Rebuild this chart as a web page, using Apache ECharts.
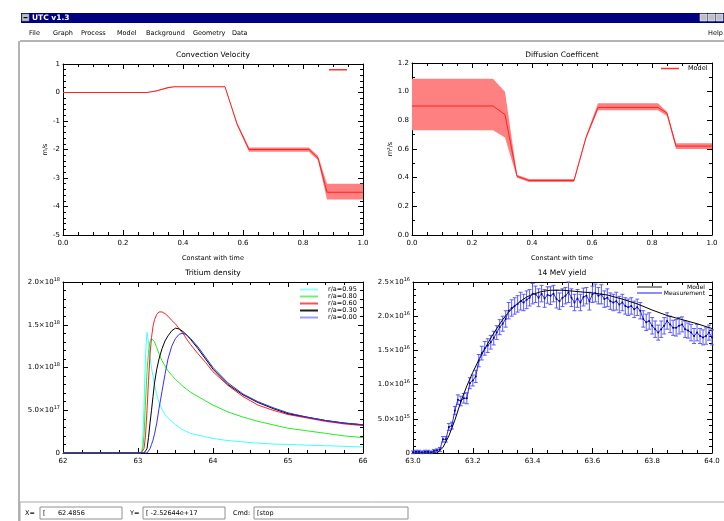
<!DOCTYPE html>
<html><head><meta charset="utf-8">
<script src="https://cdn.jsdelivr.net/npm/echarts@6/dist/echarts.min.js"></script>
<style>html,body{margin:0;padding:0;background:#fff}#c{width:724px;height:521px}</style>
</head><body><div id="c"></div>
<script>
// ---------------- DATA ----------------
// Convection velocity (m/s)
const convX   = [0, 0.28, 0.31, 0.35, 0.37, 0.54, 0.58, 0.62, 0.82, 0.85, 0.88, 1.0];
const convMid = [0, 0, 0.05, 0.17, 0.20, 0.20, -1.10, -2.00, -2.00, -2.30, -3.50, -3.50];
const convUp  = [0.01, 0.01, 0.07, 0.19, 0.21, 0.21, -1.05, -1.93, -1.93, -2.22, -3.20, -3.20];
const convLo  = [-0.01, -0.01, 0.04, 0.15, 0.19, 0.19, -1.15, -2.08, -2.08, -2.38, -3.75, -3.75];
const convXLabels = ['0.0','0.2','0.4','0.6','0.8','1.0'];
const convYLabels = ['-5','-4','-3','-2','-1','0','1'];

// Diffusion coefficient (m^2/s)
const diffX   = [0, 0.27, 0.31, 0.35, 0.39, 0.54, 0.58, 0.62, 0.82, 0.85, 0.88, 1.0];
const diffMid = [0.90, 0.90, 0.84, 0.41, 0.38, 0.38, 0.68, 0.89, 0.89, 0.85, 0.62, 0.62];
const diffUp  = [1.09, 1.09, 1.00, 0.42, 0.39, 0.39, 0.69, 0.92, 0.92, 0.86, 0.64, 0.64];
const diffLo  = [0.73, 0.73, 0.68, 0.40, 0.37, 0.37, 0.67, 0.87, 0.87, 0.83, 0.60, 0.60];
const diffYLabels = ['0.0','0.2','0.4','0.6','0.8','1.0','1.2'];

// Tritium density (units of 1e18)
const triX = [62, 63.0, 63.04, 63.06, 63.08, 63.10, 63.12, 63.14, 63.16, 63.18, 63.20, 63.22, 63.25, 63.28, 63.32, 63.36, 63.40, 63.45, 63.50, 63.55, 63.60, 63.65, 63.70, 63.80, 63.90, 64.00, 64.20, 64.40, 64.60, 64.80, 65.00, 65.25, 65.50, 65.75, 66.00];
const tri095 = [0, 0, 0, 0.08, 0.55, 1.15, 1.41, 1.30, 1.12, 0.99, 0.90, 0.80, 0.68, 0.59, 0.51, 0.45, 0.41, 0.37, 0.33, 0.30, 0.27, 0.25, 0.23, 0.21, 0.19, 0.17, 0.145, 0.13, 0.115, 0.105, 0.10, 0.092, 0.085, 0.078, 0.07];
const tri080 = [0, 0, 0, 0.03, 0.20, 0.60, 0.95, 1.18, 1.30, 1.34, 1.33, 1.30, 1.23, 1.16, 1.08, 1.02, 0.96, 0.91, 0.86, 0.82, 0.78, 0.745, 0.71, 0.66, 0.61, 0.56, 0.48, 0.42, 0.37, 0.33, 0.29, 0.26, 0.23, 0.20, 0.18];
const tri060 = [0, 0, 0, 0, 0.05, 0.20, 0.50, 0.85, 1.15, 1.35, 1.48, 1.56, 1.62, 1.65, 1.65, 1.63, 1.60, 1.55, 1.51, 1.45, 1.40, 1.33, 1.27, 1.16, 1.06, 0.95, 0.79, 0.66, 0.56, 0.50, 0.45, 0.41, 0.37, 0.34, 0.32];
const tri030 = [0, 0, 0, 0, 0, 0.01, 0.05, 0.18, 0.35, 0.50, 0.66, 0.82, 0.98, 1.10, 1.22, 1.31, 1.37, 1.43, 1.46, 1.45, 1.42, 1.38, 1.33, 1.22, 1.10, 0.98, 0.80, 0.68, 0.59, 0.52, 0.46, 0.42, 0.38, 0.35, 0.33];
const tri000 = [0, 0, 0, 0, 0, 0, 0, 0.02, 0.05, 0.10, 0.15, 0.22, 0.35, 0.52, 0.72, 0.92, 1.10, 1.25, 1.34, 1.39, 1.40, 1.38, 1.34, 1.24, 1.12, 1.00, 0.82, 0.69, 0.60, 0.53, 0.47, 0.42, 0.38, 0.35, 0.33];
const triNames = ['r/a=0.95','r/a=0.80','r/a=0.60','r/a=0.30','r/a=0.00'];
const triXLabels = ['62','63','64','65','66'];
const triYMant = ['0','5.0','1.0','1.5','2.0'];
const triYExp  = ['','17','18','18','18'];

// 14 MeV yield (units of 1e16)
const modelX = [63.0, 63.08, 63.10, 63.12, 63.14, 63.16, 63.18, 63.20, 63.22, 63.24, 63.26, 63.28, 63.30, 63.32, 63.34, 63.36, 63.38, 63.40, 63.43, 63.46, 63.50, 63.55, 63.60, 63.65, 63.70, 63.75, 63.80, 63.85, 63.90, 63.95, 64.0];
const modelY = [0, 0, 0.08, 0.25, 0.48, 0.75, 0.98, 1.18, 1.36, 1.52, 1.68, 1.82, 1.95, 2.06, 2.15, 2.22, 2.28, 2.32, 2.36, 2.38, 2.38, 2.36, 2.34, 2.31, 2.25, 2.18, 2.09, 2.01, 1.95, 1.89, 1.82];
const measX = [63.00,63.01,63.02,63.03,63.04,63.05,63.06,63.07,63.08,63.09,
  63.10,63.11,63.12,63.13,63.14,63.15,63.16,63.17,63.18,63.19,
  63.20,63.21,63.22,63.23,63.24,63.25,63.26,63.27,63.28,63.29,
  63.30,63.31,63.32,63.33,63.34,63.35,63.36,63.37,63.38,63.39,
  63.40,63.41,63.42,63.43,63.44,63.45,63.46,63.47,63.48,63.49,
  63.50,63.51,63.52,63.53,63.54,63.55,63.56,63.57,63.58,63.59,
  63.60,63.61,63.62,63.63,63.64,63.65,63.66,63.67,63.68,63.69,
  63.70,63.71,63.72,63.73,63.74,63.75,63.76,63.77,63.78,63.79,
  63.80,63.81,63.82,63.83,63.84,63.85,63.86,63.87,63.88,63.89,
  63.90,63.91,63.92,63.93,63.94,63.95,63.96,63.97,63.98,63.99,64.00];
const measY = [0.01,0.02,0.02,0.01,0.02,0.02,0.01,0.03,0.04,0.05,
  0.20,0.20,0.38,0.40,0.62,0.78,0.76,0.80,0.80,1.02,
  1.06,1.12,1.35,1.46,1.53,1.57,1.62,1.68,1.76,1.84,
  1.89,1.96,2.08,2.12,2.15,2.18,2.22,2.20,2.24,2.27,
  2.33,2.32,2.27,2.33,2.26,2.31,2.30,2.33,2.25,2.22,
  2.27,2.30,2.35,2.27,2.20,2.26,2.20,2.28,2.30,2.22,
  2.32,2.34,2.30,2.32,2.25,2.27,2.22,2.20,2.22,2.17,
  2.20,2.15,2.13,2.15,2.10,2.13,2.08,1.96,1.91,1.93,
  1.86,1.81,1.76,1.81,1.86,1.93,1.88,1.83,1.83,1.86,
  1.88,1.81,1.79,1.76,1.71,1.76,1.71,1.69,1.71,1.76,1.69];
const measErr = [0.02,0.02,0.02,0.02,0.02,0.02,0.02,0.02,0.02,0.03,
  0.04,0.04,0.05,0.05,0.06,0.07,0.07,0.07,0.08,0.08,
  0.08,0.09,0.09,0.10,0.10,0.10,0.10,0.10,0.10,0.11,
  0.11,0.12,0.12,0.12,0.12,0.12,0.13,0.12,0.13,0.12,
  0.15,0.12,0.13,0.12,0.13,0.12,0.13,0.12,0.13,0.12,
  0.13,0.12,0.15,0.13,0.12,0.13,0.12,0.13,0.12,0.13,
  0.12,0.13,0.12,0.14,0.12,0.13,0.12,0.12,0.13,0.12,
  0.12,0.12,0.12,0.12,0.12,0.12,0.12,0.12,0.12,0.12,
  0.12,0.12,0.11,0.12,0.12,0.12,0.12,0.11,0.12,0.12,
  0.11,0.12,0.11,0.12,0.11,0.12,0.11,0.11,0.12,0.11,0.11];
const yieldNames = ['Model','Measurement'];
const yieldXLabels = ['63.0','63.2','63.4','63.6','63.8','64.0'];
const yieldYMant = ['0','5.0','1.0','1.5','2.0','2.5'];
const yieldYExp  = ['','15','16','16','16','16'];

// ---------------- CHART ----------------
const FONT = 'DejaVu Sans';
const BLACK = '#000';
const zip = (xs, ys) => xs.map((x, i) => [x, ys[i]]);

function idx(v, min, step) { return Math.round((v - min) / step); }

function xAxes(gi, min, max, step, minorSplit, labels, name) {
  const base = {
    gridIndex: gi, type: 'value', min: min, max: max, interval: step,
    axisLine: { show: true, onZero: false, lineStyle: { color: BLACK, width: 1 } },
    axisTick: { show: true, inside: true, length: 5, lineStyle: { color: BLACK, width: 1 } },
    minorTick: { show: true, splitNumber: minorSplit, length: 3, lineStyle: { color: BLACK, width: 1 } },
    splitLine: { show: false }, minorSplitLine: { show: false }
  };
  const bottom = Object.assign({}, base, {
    position: 'bottom',
    axisLabel: { show: true, color: BLACK, fontSize: 7, fontFamily: FONT, margin: 5,
      formatter: v => labels[idx(v, min, step)] ?? '' }
  });
  if (name) Object.assign(bottom, { name: name, nameLocation: 'middle', nameGap: 20,
    nameTextStyle: { color: BLACK, fontSize: 6.5, fontFamily: FONT } });
  const top = Object.assign({}, base, { position: 'top', axisLabel: { show: false } });
  return [bottom, top];
}

function yAxes(gi, min, max, step, minorSplit, fmt, rich, name) {
  const base = {
    gridIndex: gi, type: 'value', min: min, max: max, interval: step,
    axisLine: { show: true, onZero: false, lineStyle: { color: BLACK, width: 1 } },
    axisTick: { show: true, inside: true, length: 5, lineStyle: { color: BLACK, width: 1 } },
    minorTick: { show: true, splitNumber: minorSplit, length: 3, lineStyle: { color: BLACK, width: 1 } },
    splitLine: { show: false }, minorSplitLine: { show: false }
  };
  const left = Object.assign({}, base, {
    position: 'left',
    axisLabel: { show: true, color: BLACK, fontSize: 7, fontFamily: FONT, margin: 3, formatter: fmt, rich: rich }
  });
  if (name) Object.assign(left, { name: name, nameLocation: 'middle', nameGap: 14, nameRotate: 90,
    nameTextStyle: { color: BLACK, fontSize: 6.5, fontFamily: FONT } });
  const right = Object.assign({}, base, { position: 'right', axisLabel: { show: false } });
  return [left, right];
}

const supRich = {
  m: { fontSize: 7, fontFamily: FONT, color: BLACK },
  e: { fontSize: 5, fontFamily: FONT, color: BLACK, verticalAlign: 'bottom', padding: [0, 0, 5, 0] }
};
function sciFmt(mant, exp, min, step) {
  return v => {
    const i = idx(v, min, step);
    if (mant[i] === undefined) return '';
    return exp[i] ? '{m|' + mant[i] + '×10}{e|' + exp[i] + '}' : '{m|' + mant[i] + '}';
  };
}

const xAxis = [].concat(
  xAxes(0, 0, 1, 0.2, 4, convXLabels, 'Constant with time'),
  xAxes(1, 0, 1, 0.2, 4, convXLabels, 'Constant with time'),
  xAxes(2, 62, 66, 1, 4, triXLabels, null),
  xAxes(3, 63, 64, 0.2, 4, yieldXLabels, null)
);
const yAxis = [].concat(
  yAxes(0, -5, 1, 1, 5, v => convYLabels[idx(v, -5, 1)] ?? '', null, 'm/s'),
  yAxes(1, 0, 1.2, 0.2, 2, v => diffYLabels[idx(v, 0, 0.2)] ?? '', null, 'm²/s'),
  yAxes(2, 0, 2.0, 0.5, 5, sciFmt(triYMant, triYExp, 0, 0.5), supRich, null),
  yAxes(3, 0, 2.5, 0.5, 5, sciFmt(yieldYMant, yieldYExp, 0, 0.5), supRich, null)
);

function bandSeries(ax, xs, up, lo, color) {
  return {
    type: 'custom', xAxisIndex: ax, yAxisIndex: ax, silent: true, z: 1,
    data: [[xs[0], up[0]]],
    renderItem: (params, api) => {
      const top = xs.map((x, i) => api.coord([x, up[i]]));
      const bot = xs.map((x, i) => api.coord([x, lo[i]])).reverse();
      return { type: 'polygon', shape: { points: top.concat(bot) }, style: { fill: color } };
    }
  };
}
function lineSeries(name, ax, data, color, width) {
  return { name: name, type: 'line', xAxisIndex: ax, yAxisIndex: ax, data: data,
    showSymbol: false, symbol: 'none', lineStyle: { color: color, width: width }, itemStyle: { color: color },
    z: 3, clip: true };
}

const triColors = ['#40ffff', '#22ee22', '#ff2020', '#000000', '#3030ff'];
const triLegendColors = ['#90ffff', '#70f070', '#ff5050', '#202020', '#9a9aff'];
const triData = [tri095, tri080, tri060, tri030, tri000];

const series = [
  bandSeries(0, convX, convUp, convLo, '#ff8080'),
  lineSeries('conv', 0, zip(convX, convMid), '#ff2020', 1),
  bandSeries(2, diffX, diffUp, diffLo, '#ff8080'),
  lineSeries('Model', 2, zip(diffX, diffMid), '#ff2020', 1)
];
triNames.forEach((n, k) => series.push(lineSeries(n, 4, zip(triX, triData[k]), triColors[k], 1)));
series.push(lineSeries('yModel', 6, zip(modelX, modelY), '#000000', 1));
series.push({
  type: 'custom', xAxisIndex: 6, yAxisIndex: 6, silent: true, z: 2,
  data: measX.map((x, i) => [x, measY[i] - measErr[i], measY[i] + measErr[i]]),
  encode: { x: 0, y: [1, 2] },
  renderItem: (params, api) => {
    const x = api.value(0);
    const lo = api.coord([x, api.value(1)]);
    const hi = api.coord([x, api.value(2)]);
    const w = 2;
    const st = { stroke: '#5c5cff', lineWidth: 1 };
    return { type: 'group', children: [
      { type: 'line', shape: { x1: lo[0], y1: lo[1], x2: hi[0], y2: hi[1] }, style: st },
      { type: 'line', shape: { x1: lo[0] - w, y1: lo[1], x2: lo[0] + w, y2: lo[1] }, style: st },
      { type: 'line', shape: { x1: hi[0] - w, y1: hi[1], x2: hi[0] + w, y2: hi[1] }, style: st }
    ] };
  }
});
series.push({ name: 'yMeas', type: 'line', xAxisIndex: 6, yAxisIndex: 6, data: zip(measX, measY),
  symbol: 'circle', symbolSize: 2, showSymbol: true, itemStyle: { color: '#00008b' },
  lineStyle: { color: '#2a2aff', width: 1 }, z: 3 });

const legendText = { color: BLACK, fontSize: 6.5, fontFamily: FONT };
const legend = [
  { data: [{ name: 'conv', itemStyle: { color: '#ff3030' } }], left: 329, top: 69, padding: 0,
    itemWidth: 18, itemHeight: 1.5, icon: 'rect', selectedMode: false,
    formatter: () => '', textStyle: legendText },
  { data: [{ name: 'Model', itemStyle: { color: '#ff3030' } }], left: 661, top: 65, padding: 0,
    itemWidth: 18, itemHeight: 1.5, icon: 'rect', selectedMode: false,
    textStyle: Object.assign({ padding: [0, 0, 0, 4] }, legendText) },
  { data: triNames.map((n, k) => ({ name: n, itemStyle: { color: triLegendColors[k] } })),
    left: 300, top: 286, padding: 0, orient: 'vertical', itemGap: 0, itemWidth: 18, itemHeight: 2,
    icon: 'rect', selectedMode: false, textStyle: Object.assign({ lineHeight: 5.5, padding: [0, 0, 0, 5] }, legendText) },
  { data: [{ name: 'yModel', itemStyle: { color: '#8c8c8c' } }, { name: 'yMeas', itemStyle: { color: '#8c8cff' } }],
    left: 637, top: 284, padding: 0, orient: 'vertical', itemGap: 0, itemWidth: 25, itemHeight: 2,
    icon: 'rect', selectedMode: false,
    formatter: n => '{r|' + (n === 'yModel' ? yieldNames[0] : yieldNames[1]) + '}',
    textStyle: Object.assign({ lineHeight: 5.5, rich: { r: { width: 38, align: 'right', fontSize: 6, fontFamily: FONT, color: BLACK } } }, legendText) }
];

// ---- window chrome & titles ----
const chromeFont = FONT;
const graphic = [
  { type: 'rect', shape: { x: 21, y: 13, width: 703, height: 10 }, style: { fill: '#000080' }, z: 0 },
  { type: 'rect', shape: { x: 22, y: 14, width: 7, height: 7 }, style: { fill: '#c0c0c0', stroke: '#808080', lineWidth: 0.5 } },
  { type: 'rect', shape: { x: 23.5, y: 17, width: 4, height: 1.2 }, style: { fill: '#000' } },
  { type: 'text', x: 32, y: 18, style: { text: 'UTC v1.3', fill: '#fff', font: 'bold 7.5px ' + chromeFont, verticalAlign: 'middle' } },
  { type: 'rect', shape: { x: 700, y: 14, width: 7, height: 7 }, style: { fill: '#c0c0c0', stroke: '#fff', lineWidth: 0.5 } },
  { type: 'rect', shape: { x: 708, y: 14, width: 7, height: 7 }, style: { fill: '#c0c0c0', stroke: '#fff', lineWidth: 0.5 } },
  { type: 'rect', shape: { x: 716, y: 14, width: 7, height: 7 }, style: { fill: '#c0c0c0', stroke: '#fff', lineWidth: 0.5 } },
  { type: 'line', shape: { x1: 20, y1: 41, x2: 724, y2: 41 }, style: { stroke: '#b4b4b4', lineWidth: 2 } },
  { type: 'line', shape: { x1: 19, y1: 41, x2: 19, y2: 521 }, style: { stroke: '#b4b4b4', lineWidth: 2 } },
  { type: 'rect', shape: { x: 20, y: 502, width: 720, height: 30 }, style: { fill: 'none', stroke: '#a8a8a8', lineWidth: 1 } }
];
const menuItems = ['File', 'Graph', 'Process', 'Model', 'Background', 'Geometry', 'Data'];
const menuPos = [29, 53, 81, 117, 146, 193, 232];
menuItems.forEach((m, i) => graphic.push({ type: 'text', x: menuPos[i], y: 33,
  style: { text: m, fill: '#000', font: '6.5px ' + chromeFont, verticalAlign: 'middle' } }));
graphic.push({ type: 'text', x: 708, y: 33, style: { text: 'Help', fill: '#000', font: '6.5px ' + chromeFont, verticalAlign: 'middle' } });

const titles = [['Convection Velocity', 213, 55], ['Diffusion Coefficent', 562, 55], ['Tritium density', 213, 273], ['14 MeV yield', 562, 273]];
titles.forEach(t => graphic.push({ type: 'text', x: t[1], y: t[2],
  style: { text: t[0], fill: '#000', font: '7.5px ' + FONT, align: 'center', verticalAlign: 'middle' } }));

// bottom fields
const fields = [
  { lab: 'X=', lx: 25, bx: 40, bw: 82, val: '[      62.4856' },
  { lab: 'Y=', lx: 130, bx: 143, bw: 82, val: '[ -2.52644e+17' },
  { lab: 'Cmd:', lx: 233, bx: 254, bw: 154, val: '[stop' }
];
fields.forEach(f => {
  graphic.push({ type: 'text', x: f.lx, y: 513, style: { text: f.lab, fill: '#000', font: '6.5px ' + chromeFont, verticalAlign: 'middle' } });
  graphic.push({ type: 'rect', shape: { x: f.bx, y: 507, width: f.bw, height: 12 }, style: { fill: '#fff', stroke: '#909090', lineWidth: 1 } });
  graphic.push({ type: 'text', x: f.bx + 3, y: 513, style: { text: f.val, fill: '#000', font: '6.5px ' + chromeFont, verticalAlign: 'middle' } });
});

const option = {
  backgroundColor: '#fff',
  animation: false,
  textStyle: { fontFamily: FONT },
  grid: [
    { left: 63, top: 64, width: 300, height: 171 },
    { left: 412, top: 63, width: 300, height: 172 },
    { left: 63, top: 282, width: 300, height: 171 },
    { left: 413, top: 282, width: 299, height: 171 }
  ],
  xAxis: xAxis, yAxis: yAxis, series: series, legend: legend, graphic: graphic
};
const chart = echarts.init(document.getElementById('c'), null, { renderer: 'canvas' });
chart.setOption(option);
</script></body></html>
